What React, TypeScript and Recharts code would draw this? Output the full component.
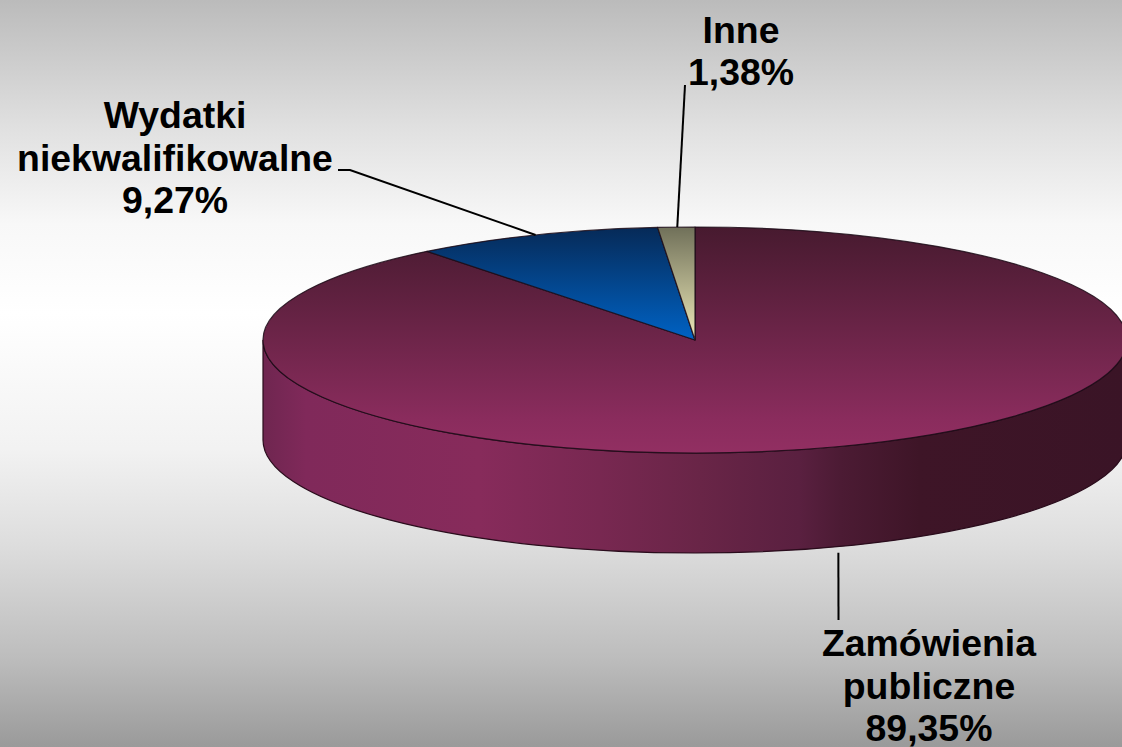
import React from "react";
import { PieChart, Pie, Cell } from "recharts";

const categories = ["Zamówienia publiczne", "Wydatki niekwalifikowalne", "Inne"];
const shares = [89.35, 9.27, 1.38];
const shareLabels = ["89,35%", "9,27%", "1,38%"];
const labelLines = [["Zamówienia", "publiczne"], ["Wydatki", "niekwalifikowalne"], ["Inne"]];
const faceGradients = ["faceMaroon", "faceBlue", "faceKhaki"];

const data = categories.map((name, i) => ({ name, value: shares[i] }));

const WIDTH = 1122;
const HEIGHT = 747;
const TILT = 113 / 432;
const DEPTH = 100;
const RAD = Math.PI / 180;
const FONT = "'Liberation Sans', Arial, sans-serif";

const labelLayout = [
  { x: 929, y: 656, dx: 1.5, elbow: [[838.5, 620]] },
  { x: 175, y: 128, dx: 0, elbow: [[350, 170], [338, 170]] },
  { x: 741, y: 42.5, dx: 1, elbow: [[685, 85]] },
];

function px(cx: number, r: number, a: number) {
  return cx + r * Math.cos(a * RAD);
}
function py(cy: number, r: number, a: number) {
  return cy - r * TILT * Math.sin(a * RAD);
}

function Slice(props: any) {
  const { cx, cy, outerRadius: r, startAngle, endAngle, index } = props;
  const ry = r * TILT;
  const large = Math.abs(startAngle - endAngle) > 180 ? 1 : 0;
  const sweep = startAngle > endAngle ? 1 : 0;
  const face =
    `M${cx},${cy} L${px(cx, r, startAngle)},${py(cy, r, startAngle)} ` +
    `A${r},${ry} 0 ${large} ${sweep} ${px(cx, r, endAngle)},${py(cy, r, endAngle)} Z`;
  const hi = Math.min(startAngle, 0);
  const lo = Math.max(endAngle, -180);
  let wall = null;
  if (hi > lo) {
    const x1 = px(cx, r, hi);
    const y1 = py(cy, r, hi);
    const x2 = px(cx, r, lo);
    const y2 = py(cy, r, lo);
    const d =
      `M${x1},${y1} A${r},${ry} 0 0 1 ${x2},${y2} L${x2},${y2 + DEPTH} ` +
      `A${r},${ry} 0 0 0 ${x1},${y1 + DEPTH} Z`;
    wall = <path d={d} fill="url(#wallMaroon)" stroke="#2a0c1c" strokeWidth={1.2} />;
  }
  return (
    <g>
      {wall}
      <path d={face} fill={`url(#${faceGradients[index]})`} stroke="#1c0c18" strokeWidth={1.2} strokeOpacity={0.85} strokeLinejoin="round" />
    </g>
  );
}

function SliceLabel(props: any) {
  const { cx, cy, outerRadius: r, midAngle, index } = props;
  const layout = labelLayout[index];
  const sx = px(cx, r, midAngle) + layout.dx;
  const front = Math.sin(midAngle * RAD) < 0;
  const sy = py(cy, r, midAngle) + (front ? DEPTH + 6 : 0);
  const pts = [[sx, sy], ...layout.elbow].map((p) => p.join(",")).join(" ");
  const lines = [...labelLines[index], shareLabels[index]];
  return (
    <g>
      <polyline points={pts} fill="none" stroke="#000" strokeWidth={2} />
      <text x={layout.x} y={layout.y} textAnchor="middle" fontFamily={FONT} fontWeight="bold" fontSize={37.4} fill="#000">
        {lines.map((t, i) => (
          <tspan key={t} x={layout.x} y={layout.y + i * 42.6}>
            {t}
          </tspan>
        ))}
      </text>
    </g>
  );
}

export default function App() {
  return (
    <div
      style={{
        position: "absolute",
        left: 0,
        top: 0,
        width: WIDTH,
        height: HEIGHT,
        overflow: "hidden",
        background:
          "linear-gradient(to bottom, #bbbbbb 0%, #e0e0e0 17%, #f8f8f8 30%, #ffffff 42%, #f2f2f2 60%, #dddddd 73%, #bdbdbd 88%, #9a9a9a 100%)",
      }}
    >
      <PieChart width={WIDTH} height={HEIGHT} margin={{ top: 0, right: 0, bottom: 0, left: 0 }}>
        <defs>
          <linearGradient id="faceMaroon" gradientUnits="userSpaceOnUse" x1="0" y1="227" x2="0" y2="453">
            <stop offset="0" stopColor="#471a2f" />
            <stop offset="0.45" stopColor="#6a2447" />
            <stop offset="0.85" stopColor="#8a2c5d" />
            <stop offset="1" stopColor="#922f62" />
          </linearGradient>
          <linearGradient id="faceBlue" gradientUnits="userSpaceOnUse" x1="0" y1="228" x2="0" y2="340">
            <stop offset="0" stopColor="#062a58" />
            <stop offset="1" stopColor="#0062c4" />
          </linearGradient>
          <linearGradient id="faceKhaki" gradientUnits="userSpaceOnUse" x1="0" y1="228" x2="0" y2="340">
            <stop offset="0" stopColor="#71715a" />
            <stop offset="1" stopColor="#ede9b8" />
          </linearGradient>
          <linearGradient id="wallMaroon" gradientUnits="userSpaceOnUse" x1="263" y1="0" x2="1127" y2="0">
            <stop offset="0" stopColor="#6f2650" />
            <stop offset="0.05" stopColor="#80295a" />
            <stop offset="0.25" stopColor="#872b5b" />
            <stop offset="0.39" stopColor="#782851" />
            <stop offset="0.506" stopColor="#692547" />
            <stop offset="0.62" stopColor="#5a2040" />
            <stop offset="0.668" stopColor="#4c1b34" />
            <stop offset="0.76" stopColor="#3e1527" />
            <stop offset="1" stopColor="#3a1426" />
          </linearGradient>
        </defs>
        <Pie
          data={data}
          dataKey="value"
          nameKey="name"
          cx={695}
          cy={340}
          innerRadius={0}
          outerRadius={432}
          startAngle={90}
          endAngle={-270}
          paddingAngle={0}
          isAnimationActive={false}
          shape={Slice}
          label={SliceLabel}
          labelLine={false}
        >
          {data.map((d) => (
            <Cell key={d.name} />
          ))}
        </Pie>
      </PieChart>
    </div>
  );
}
